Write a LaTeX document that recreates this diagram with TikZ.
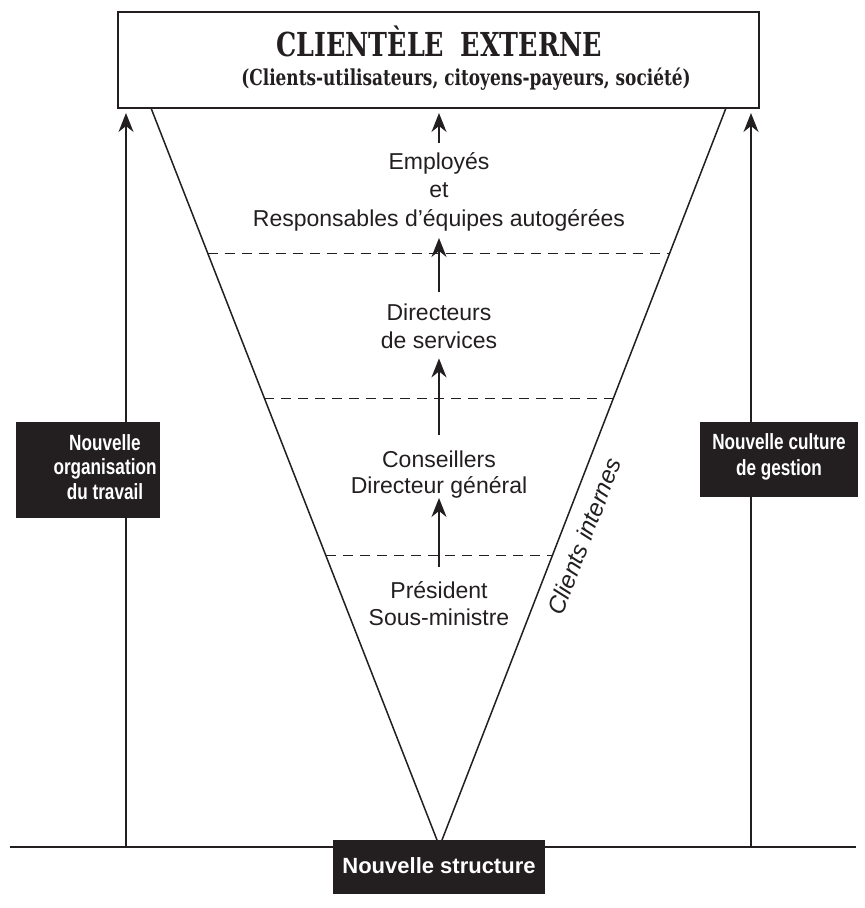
\documentclass[tikz,border=0pt]{standalone}
\usepackage{fontspec}
\usetikzlibrary{arrows.meta,calc}
\setmainfont{Liberation Sans}
\newfontfamily\headfont{DejaVu Serif}[FakeStretch=0.77]
\newfontfamily\tagfont{Liberation Sans}[FakeStretch=0.78]
\definecolor{ink}{RGB}{35,31,32}

\begin{document}
\begin{tikzpicture}[x=1pt,y=-1pt,color=ink,
  frame/.style={draw=ink,line width=2pt,inner sep=0pt},
  edge/.style={line width=1.5pt},
  level/.style={dashed,dash pattern=on 10pt off 7pt,line width=1pt},
  arr/.style={line width=1.5pt,-{Stealth[length=19pt,width=15pt,inset=6pt]}},
  lbl/.style={font=\fontsize{23}{28}\selectfont,inner sep=0pt,anchor=base},
  tagbox/.style={fill=ink,draw=none,inner sep=0pt},
  tagtext/.style={text=white,align=center,inner sep=0pt,
    font=\tagfont\bfseries\fontsize{22}{24.5}\selectfont},
]
\useasboundingbox (0,0) rectangle (865,908);

% top box: external clientele
\node[frame,minimum width=641pt,minimum height=96pt] (ext) at (438.5,60) {};
\node[anchor=base,inner sep=0pt,font=\headfont\bfseries\fontsize{33}{36}\selectfont]
  (title) at (439,56) {CLIENTÈLE\hspace{0.5em}EXTERNE};
\node[anchor=base,inner sep=0pt,font=\headfont\bfseries\fontsize{22}{26}\selectfont]
  (sub) at (466,85) {(Clients-utilisateurs, citoyens-payeurs, société)};

% inverted triangle
\coordinate (tl) at (151,108);
\coordinate (tr) at (726,108);
\coordinate (al) at (437,840);
\coordinate (ar) at (442,840);
\draw[edge] (tl) -- (al);
\draw[edge] (tr) -- (ar);

% level separators
\draw[level] ($(tl)!0.1981!(al)$) -- ($(tr)!0.1981!(ar)$);
\draw[level] ($(tl)!0.3962!(al)$) -- ($(tr)!0.3962!(ar)$);
\draw[level] ($(tl)!0.612!(al)$) -- ($(tr)!0.612!(ar)$);

% ground line and side arrows
\coordinate (gl) at (10,847);
\coordinate (gr) at (856,847);
\coordinate (lf) at (126,847);
\coordinate (rf) at (751,847);
\draw[edge] (gl) -- (gr);
\draw[arr,shorten >=4pt] (lf) -- (lf |- ext.south);
\draw[arr,shorten >=4pt] (rf) -- (rf |- ext.south);

% levels of the inverted pyramid
\node[lbl] (emp)  at (439,169) {Employés};
\node[lbl] (et)   at (439,197) {et};
\node[lbl] (resp) at (439,226) {Responsables d’équipes autogérées};
\node[lbl] (dir)  at (439,320) {Directeurs};
\node[lbl] (serv) at (439,348) {de services};
\node[lbl] (cons) at (439,467) {Conseillers};
\node[lbl] (dg)   at (439,493) {Directeur général};
\node[lbl] (pres) at (439,598) {Président};
\node[lbl] (sm)   at (439,625) {Sous-ministre};

\draw[arr,shorten <=9pt,shorten >=4pt] (emp.north) -- (emp.north |- ext.south);
\draw[arr,shorten <=11pt,shorten >=7pt] (dir.north) -- (resp.south);
\draw[arr,shorten <=15pt,shorten >=10pt] (cons.north) -- (serv.south);
\draw[arr,shorten <=14pt] (pres.north) -- (dg.south);

\node[lbl,anchor=center,font=\itshape\fontsize{24}{28}\selectfont,rotate=68.8]
  (ci) at (584,536) {Clients internes};

% black labels
\node[tagbox,minimum width=144pt,minimum height=96pt] (org) at (88,470) {};
\node[tagtext] (orgt) at (105,467) {Nouvelle\\organisation\\du travail};
\node[tagbox,minimum width=158pt,minimum height=75pt] (cult) at (779,459) {};
\node[tagtext,font=\tagfont\bfseries\fontsize{22}{26.5}\selectfont]
  (cultt) at (779,457) {Nouvelle culture\\de gestion};
\node[tagbox,minimum width=212pt,minimum height=54pt] (struct) at (439,866.5) {};
\node[tagtext,font=\bfseries\fontsize{22}{26}\selectfont]
  (structt) at (439,866) {Nouvelle structure};
\end{tikzpicture}
\end{document}
